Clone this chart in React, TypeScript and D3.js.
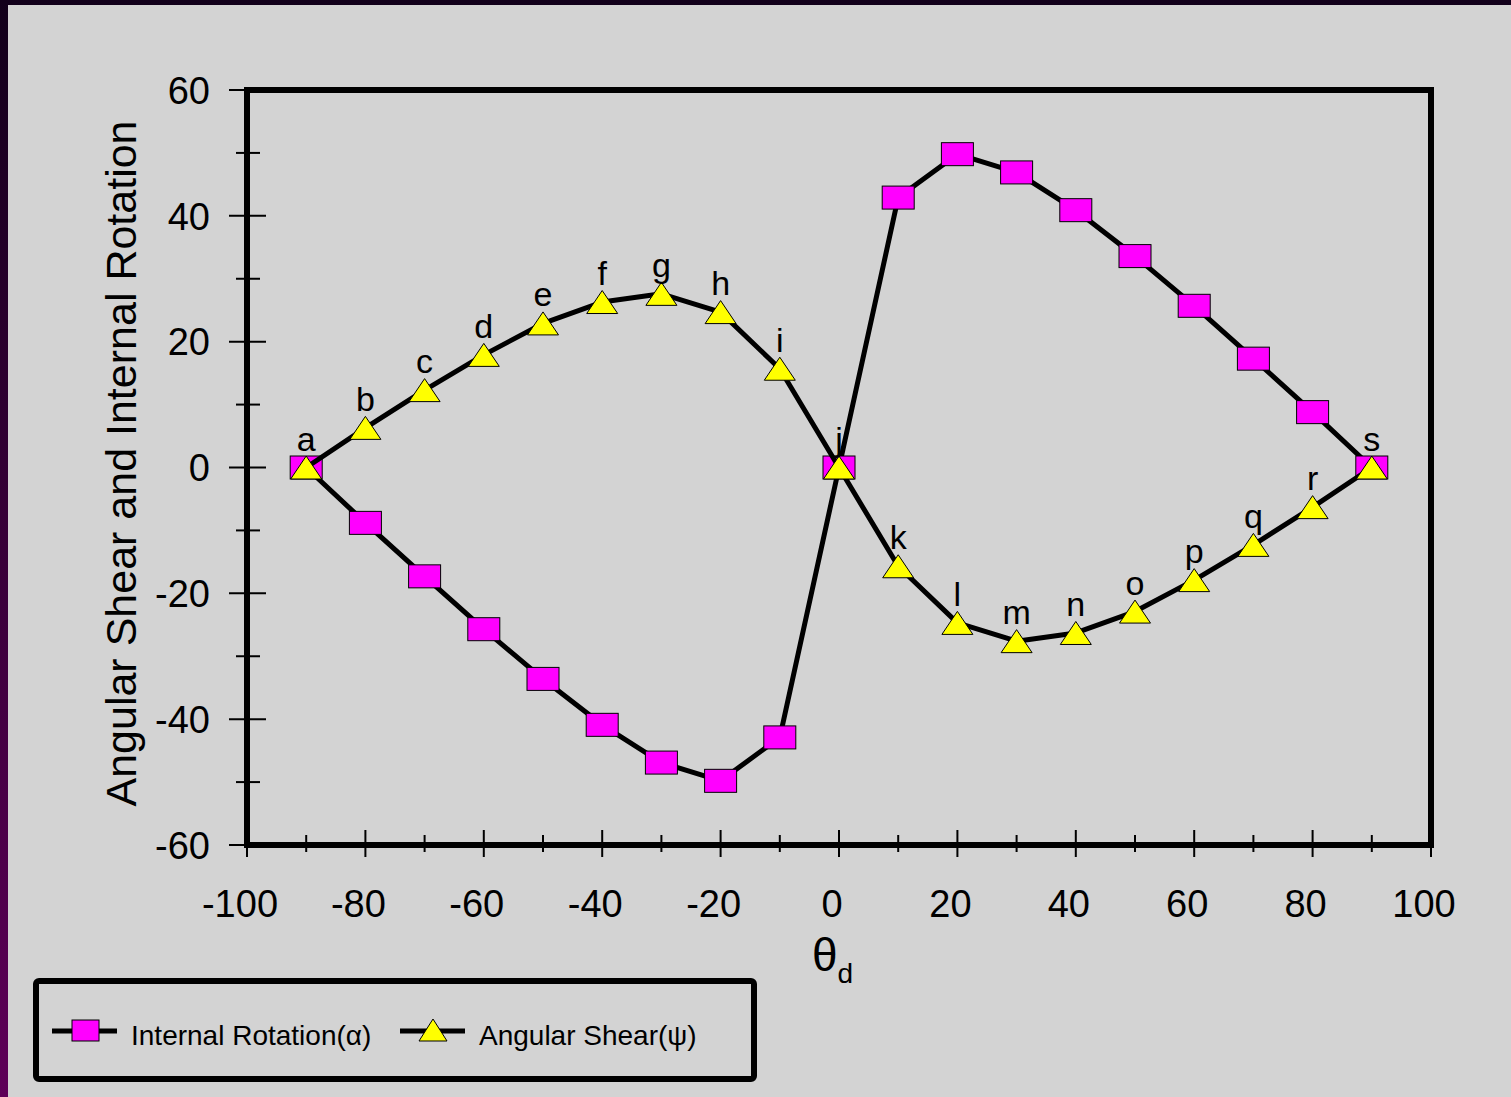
import * as React from 'react';
import * as d3 from 'd3';

const thetaD = [-90, -80, -70, -60, -50, -40, -30, -20, -10, 0, 10, 20, 30, 40, 50, 60, 70, 80, 90];
const internalRotation = [0, -8.8, -17.3, -25.7, -33.6, -40.9, -46.9, -49.8, -42.9, 0, 42.9, 49.8, 46.9, 40.9, 33.6, 25.7, 17.3, 8.8, 0];
const angularShear = [0, 6.3, 12.3, 17.9, 22.9, 26.3, 27.6, 24.7, 15.7, 0, -15.7, -24.7, -27.6, -26.3, -22.9, -17.9, -12.3, -6.3, 0];
const pointLabels = ['a', 'b', 'c', 'd', 'e', 'f', 'g', 'h', 'i', 'j', 'k', 'l', 'm', 'n', 'o', 'p', 'q', 'r', 's'];
const xTicks = [-100, -80, -60, -40, -20, 0, 20, 40, 60, 80, 100];
const xMinorTicks = [-90, -70, -50, -30, -10, 10, 30, 50, 70, 90];
const yTicks = [-60, -40, -20, 0, 20, 40, 60];
const yMinorTicks = [-50, -30, -10, 10, 30, 50];

const W = 1511;
const H = 1097;
const FONT = '"Liberation Sans", Arial, sans-serif';

const triangle = (cx: number, cy: number) =>
  `M${cx},${cy - 11.5}L${cx + 15.5},${cy + 11.5}L${cx - 15.5},${cy + 11.5}Z`;

const App = () => {
  const x = d3.scaleLinear().domain([-100, 100]).range([247, 1431]);
  const y = d3.scaleLinear().domain([-60, 60]).range([845, 90]);

  const rotPts: [number, number][] = thetaD.map((t, i) => [t, internalRotation[i]]);
  const shearPts: [number, number][] = thetaD.map((t, i) => [t, angularShear[i]]);
  const line = d3
    .line<[number, number]>()
    .x((d) => x(d[0]))
    .y((d) => y(d[1]));

  const x0 = x(-100);
  const y0 = y(-60);

  return (
    <svg width={W} height={H} style={{ position: 'absolute', left: 0, top: 0 }} fontFamily={FONT}>
      <defs>
        <linearGradient id='bg' x1='0' y1='0' x2='0' y2='1'>
          <stop offset='0' stopColor='#12001a' />
          <stop offset='1' stopColor='#5e0058' />
        </linearGradient>
      </defs>
      <rect x={0} y={0} width={W} height={H} fill='url(#bg)' />
      <rect x={8} y={5} width={W - 8} height={H - 5} fill='#d3d3d3' />

      {/* ticks */}
      {xTicks.map((t) => (
        <line key={'xt' + t} x1={x(t)} x2={x(t)} y1={y0 - 15} y2={y0 + 12} stroke='#000' strokeWidth={2} />
      ))}
      {xMinorTicks.map((t) => (
        <line key={'xm' + t} x1={x(t)} x2={x(t)} y1={y0 - 10} y2={y0 + 7} stroke='#000' strokeWidth={2} />
      ))}
      {yTicks.map((t) => (
        <line key={'yt' + t} x1={x0 - 18} x2={x0 + 19} y1={y(t)} y2={y(t)} stroke='#000' strokeWidth={2} />
      ))}
      {yMinorTicks.map((t) => (
        <line key={'ym' + t} x1={x0 - 11} x2={x0 + 13} y1={y(t)} y2={y(t)} stroke='#000' strokeWidth={2} />
      ))}

      {/* frame */}
      <rect x={x0} y={y(60)} width={x(100) - x0} height={y0 - y(60)} fill='none' stroke='#000' strokeWidth={6} />

      {/* tick labels */}
      {xTicks.map((t) => (
        <text key={'xl' + t} x={x(t) - 7} y={917} textAnchor='middle' fontSize={38}>
          {t}
        </text>
      ))}
      {yTicks.map((t) => (
        <text key={'yl' + t} x={210} y={y(t)} dy='0.36em' textAnchor='end' fontSize={38}>
          {t}
        </text>
      ))}

      {/* axis titles */}
      <text
        transform={`translate(136, ${(y(60) + y0) / 2 - 4}) rotate(-90)`}
        textAnchor='middle'
        fontSize={43}>
        Angular Shear and Internal Rotation
      </text>
      <text x={812} y={971} fontSize={46}>
        θ<tspan fontSize={28} dy={12}>d</tspan>
      </text>

      {/* internal rotation series */}
      <path d={line(rotPts) || ''} fill='none' stroke='#000' strokeWidth={5} strokeLinejoin='round' />
      {rotPts.map((d, i) => (
        <rect
          key={'r' + i}
          x={x(d[0]) - 16}
          y={y(d[1]) - 11.5}
          width={32}
          height={23}
          fill='#ff00ff'
          stroke='#000'
          strokeWidth={1}
        />
      ))}

      {/* angular shear series */}
      <path d={line(shearPts) || ''} fill='none' stroke='#000' strokeWidth={5} strokeLinejoin='round' />
      {shearPts.map((d, i) => (
        <path key={'s' + i} d={triangle(x(d[0]), y(d[1]))} fill='#ffff00' stroke='#000' strokeWidth={1} />
      ))}
      {shearPts.map((d, i) => (
        <text key={'l' + i} x={x(d[0])} y={y(d[1]) - 17} textAnchor='middle' fontSize={34}>
          {pointLabels[i]}
        </text>
      ))}

      {/* legend */}
      <rect x={36} y={981} width={718} height={98} rx={3} fill='none' stroke='#000' strokeWidth={6} />
      <line x1={52} x2={117} y1={1031} y2={1031} stroke='#000' strokeWidth={5} />
      <rect x={72} y={1020} width={27} height={21} fill='#ff00ff' stroke='#000' strokeWidth={1} />
      <text x={131} y={1045} fontSize={28}>
        Internal Rotation(α)
      </text>
      <line x1={400} x2={465} y1={1031} y2={1031} stroke='#000' strokeWidth={5} />
      <path d='M433,1019L447,1041L419,1041Z' fill='#ffff00' stroke='#000' strokeWidth={1} />
      <text x={479} y={1045} fontSize={28}>
        Angular Shear(ψ)
      </text>
    </svg>
  );
};

export default App;
